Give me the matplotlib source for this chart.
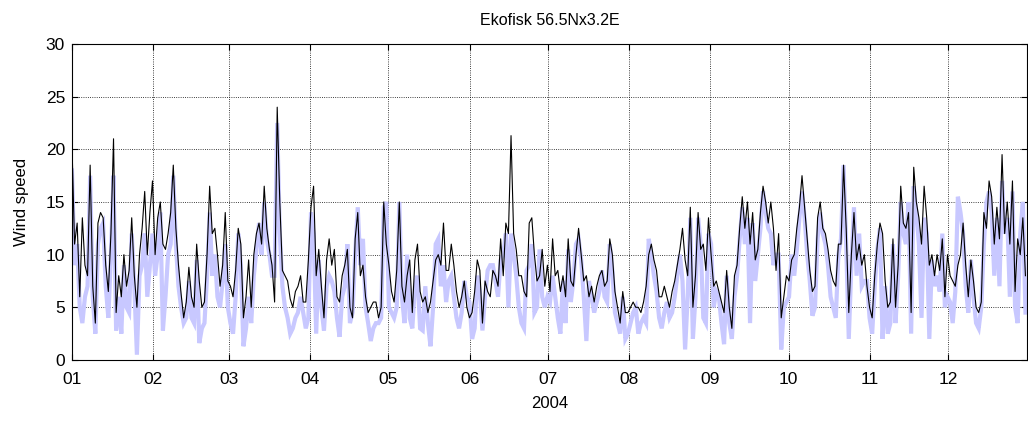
import numpy as np
import pandas as pd
import matplotlib
matplotlib.use("Agg")
import matplotlib.pyplot as plt
import matplotlib.dates as mdates

plt.rcParams['font.family'] = ['Liberation Sans', 'DejaVu Sans']

# Ekofisk wind speed 2004, roughly one value per day
# observed (thin black) and model (thick light blue)
obs = [
    20.5, 11, 13, 6, 13.5, 9, 8, 18.5, 7, 3.5, 13, 14, 13.5, 9, 6.5, 12, 21, 4.5, 8, 6, 10, 7, 8.5, 13.5, 8, 5, 10,
    12.5, 16, 10, 14, 17, 10, 13.5, 15, 11, 10.5, 12, 14, 18.5, 12.5, 9, 6.3, 4, 5.5, 8.8, 6, 5, 11, 7.5, 5, 5.5, 10, 16.5, 12, 12.5, 10, 7, 9,
    14, 7.5, 7, 6, 8.5, 12.5, 11, 4, 6, 9.5, 5, 10, 12, 13, 11, 16.5, 12.5, 10.5, 9, 5.5, 24, 15, 8.5, 8, 7.5, 5.8, 5, 6.5, 7, 8, 5.5,
    5.5, 9.5, 14.5, 16.5, 8, 10.5, 7, 4, 9.5, 11.5, 9, 10.5, 6, 5.5, 8, 9, 10.5, 5, 4, 11.5, 14, 8, 9, 6, 4.5, 5, 5.5, 5.5, 4, 5, 15, 11,
    9, 6.5, 5.5, 8.5, 15, 7, 5.5, 8, 9.5, 4.5, 9.5, 11, 6.5, 5.5, 6, 4.5, 5.5, 7.5, 9.5, 10, 9, 13, 8.5, 8.5, 11, 9, 6.5, 5, 6, 7.5, 5, 4,
    4.5, 6.5, 9.5, 8.5, 3.5, 7.5, 6.5, 6, 8.5, 8, 7, 11.5, 8, 13, 12, 21.3, 12, 10.5, 8, 8, 6.5, 6, 13, 13.5, 10, 7.5, 8, 10.5, 7, 9, 6.5, 11.5,
    8, 8.5, 6.5, 8, 6, 11.5, 7.5, 7, 10, 12.5, 10, 7.5, 8, 6, 7, 5.5, 7, 8, 8.5, 7, 7.5, 11.5, 10, 6.5, 5, 3.5, 6.5, 4.5, 4.5, 5, 5.5, 5,
    5, 4.5, 5.5, 7, 10, 11, 9.5, 8.5, 6, 6, 7, 6, 5, 6.5, 7.5, 9, 10.5, 12.5, 9.5, 8, 14.5, 5, 8, 14, 10.5, 11, 8.5, 13.5, 10, 7, 7.5, 6.5,
    5.5, 4.5, 8.5, 5, 3, 8, 9, 12.5, 15.5, 12.5, 15, 11, 14, 9.5, 10.5, 14, 16.5, 15, 13, 15, 12.5, 8.5, 12, 4, 6, 8, 7.5, 9.5, 10, 12.5, 14.5, 17.5,
    14.5, 11.5, 8.5, 6.5, 7, 13.5, 15, 12.5, 12, 10.5, 8.5, 7.5, 7, 11, 11, 18.5, 12.5, 4.5, 10, 14, 9.5, 11, 9, 10, 7, 5, 4, 8, 11, 13, 12, 7.5,
    5, 5.5, 11.5, 5, 9, 16.5, 13, 12.5, 14, 4.5, 18.3, 15, 13.5, 11, 16.5, 13.5, 9, 10, 8, 10, 8.5, 11.5, 6, 10, 8, 7.5, 7, 9, 10,
    13, 9, 6, 9.5, 7.5, 5, 4.5, 5.5, 14, 12.5, 17, 15.5, 11, 14.5, 11.5, 19.5, 12, 15, 11, 17, 6.5, 11.5, 10, 13.5, 8,
]
model = [
    18, 9, 11, 5, 3.5, 6, 7, 17.5, 6, 2.5, 11, 12.5, 13, 7, 4, 10, 17.5, 2.8, 6, 2.5, 9, 5, 4.5, 12, 7, 0.5, 8,
    9, 12, 6, 9, 12, 8, 10, 14, 2.8, 6, 10, 11, 17.5, 11, 7, 5, 3.5, 4, 7.5, 4, 3.5, 9.5, 1.6, 3, 3.5, 8, 14, 8, 10, 6, 5, 7.5,
    11, 5, 3.5, 2.5, 6, 12, 9, 1.3, 3, 6, 3.5, 8, 10.5, 13, 10, 15, 11.5, 10, 8, 8, 22.5, 12, 7, 5, 4, 2.5, 3, 4, 4.5, 6, 4.5,
    3, 4, 14, 12, 2.5, 9.5, 5, 2.8, 7, 8, 7.5, 6.5, 4, 2.2, 6, 7, 11, 3.5, 4.5, 10, 14.5, 9, 11.5, 5, 3.5, 1.8, 3, 3.5, 3.5, 4, 14.5, 15,
    5, 4.5, 4, 5, 15, 6, 3.5, 10, 4, 3, 7, 8, 3, 2.8, 7, 3.5, 1.3, 5, 11, 11.5, 7, 9, 5.5, 7.5, 8, 6, 4, 3, 4.5, 7.5, 6, 5.5,
    2, 3, 8, 6.5, 2.8, 6, 8.5, 9, 9, 7.5, 6, 9.5, 10, 12, 5, 12, 10, 8, 5, 3.5, 3, 8.5, 9, 11, 4.5, 5, 10.5, 6, 5, 6, 5.5, 8,
    6, 4, 2.5, 7.5, 3.5, 10.5, 5.5, 7.5, 11, 11.5, 9.5, 6, 1.8, 7.5, 6, 4.5, 5.5, 6.5, 8.5, 6, 5.5, 11, 8.5, 4.5, 3.5, 2.5, 6, 2, 2.5, 3.5, 4.5, 5,
    2.5, 3.5, 4, 3.5, 11.5, 10, 8, 6.5, 4, 3, 4.5, 5.5, 4, 4.5, 6, 8, 10, 7.5, 1, 6, 13.5, 2, 6, 13.5, 11, 4, 3.5, 12, 11, 5, 6.5, 6,
    3.5, 1.5, 8, 3.5, 2, 6, 8, 11.5, 14.5, 11, 13.5, 3.5, 13, 7.5, 10, 12.5, 16, 14, 12.5, 12, 9, 10, 10, 1, 5, 5.5, 6, 10, 8, 10.5, 13.5, 16,
    13.5, 10, 7.5, 4.2, 5, 11.5, 14, 12, 11, 9, 6, 5, 4, 10, 11.5, 18.5, 11, 2, 9, 14.5, 8, 12, 7, 7.5, 7.5, 4, 2.5, 7, 10.5, 12.5, 2, 7,
    2.5, 3.5, 11, 3.5, 8, 15, 12, 11, 15, 2.5, 16.5, 14, 11, 4, 13.5, 12, 2, 9.5, 7, 8, 6.5, 12, 5, 6, 5.5, 3.5, 6.5, 15.5, 14,
    12, 7, 4.5, 9.5, 6, 3.5, 3, 5, 11, 15, 16, 14, 8, 13.5, 7, 17, 12, 13.5, 6, 16, 5, 3.5, 12, 15, 4.5,
]

start = pd.Timestamp('2004-01-01')
end = pd.Timestamp('2004-12-30 12:00')
t = pd.date_range(start, end, periods=len(obs))

fig = plt.figure(figsize=(10.28, 4.23), dpi=100)
ax = fig.add_axes([0.070, 0.149, 0.929, 0.747])

ax.plot(t, model, color='#c8c8ff', lw=3.0, solid_joinstyle='miter')
ax.plot(t, obs, color='black', lw=0.8)

ax.set_xlim(start, pd.Timestamp('2004-12-31 02:00'))
ax.set_ylim(0, 30)
ax.set_yticks(np.arange(0, 31, 5))
ax.xaxis.set_major_locator(mdates.MonthLocator())
ax.xaxis.set_major_formatter(mdates.DateFormatter('%m'))

ax.grid(True, color='black', linestyle=':', linewidth=0.6)
ax.tick_params(direction='in', top=True, right=True, length=4, labelsize=12.5)
ax.tick_params(axis='x', pad=9)
ax.tick_params(axis='y', pad=5)
for s in ax.spines.values():
    s.set_linewidth(0.8)

ax.set_title('Ekofisk 56.5Nx3.2E', fontsize=11.5, pad=14)
ax.set_xlabel('2004', fontsize=12, labelpad=6)
ax.set_ylabel('Wind speed', fontsize=12, labelpad=12)

fig.savefig('out.png', dpi=100)
